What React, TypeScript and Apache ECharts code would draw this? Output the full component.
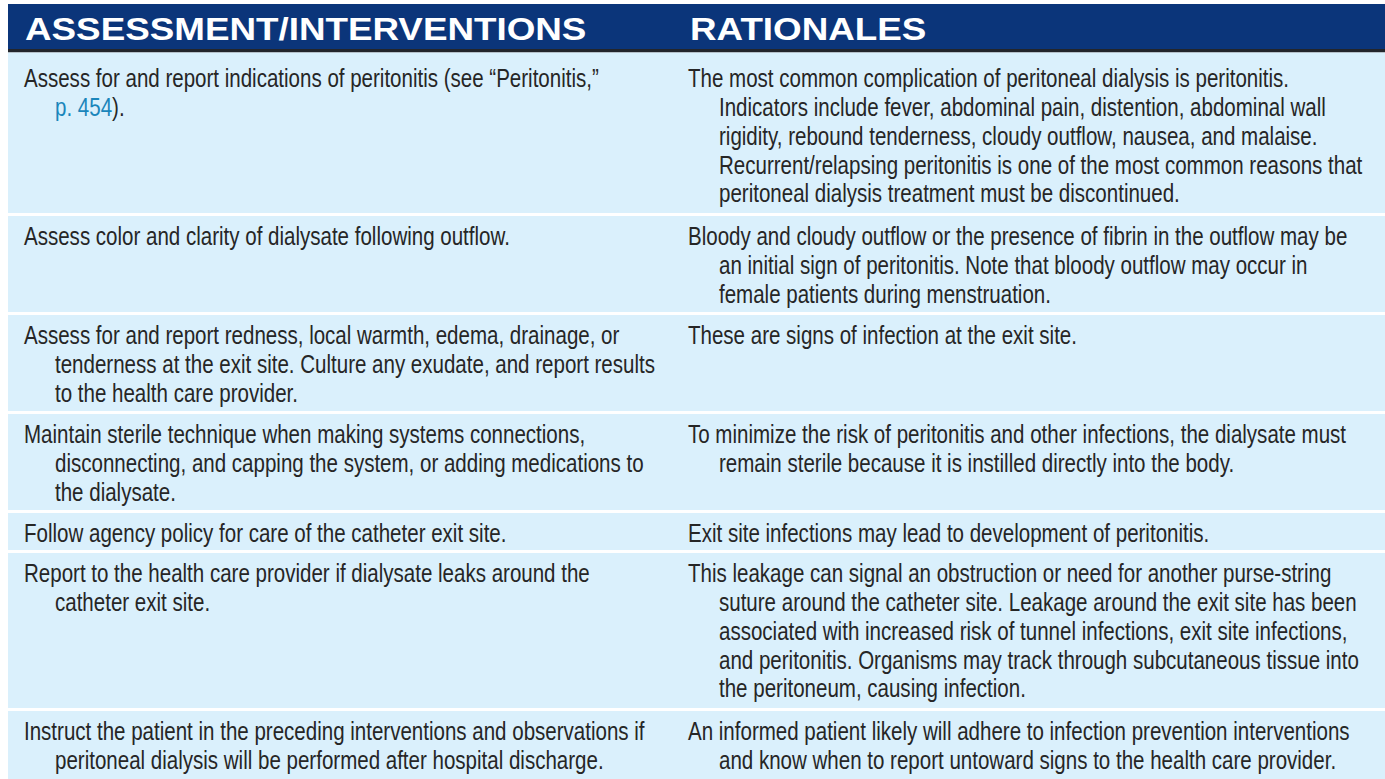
import React, { useEffect, useRef } from "react";
import * as echarts from "echarts";

// ---- table content ----
const headers: string[] = ["ASSESSMENT/INTERVENTIONS", "RATIONALES"];

const interventions: string[][] = [
  ["Assess for and report indications of peritonitis (see “Peritonitis,”", "{link|p. 454}{txt|).}"],
  ["Assess color and clarity of dialysate following outflow."],
  [
    "Assess for and report redness, local warmth, edema, drainage, or",
    "tenderness at the exit site. Culture any exudate, and report results",
    "to the health care provider.",
  ],
  [
    "Maintain sterile technique when making systems connections,",
    "disconnecting, and capping the system, or adding medications to",
    "the dialysate.",
  ],
  ["Follow agency policy for care of the catheter exit site."],
  ["Report to the health care provider if dialysate leaks around the", "catheter exit site."],
  [
    "Instruct the patient in the preceding interventions and observations if",
    "peritoneal dialysis will be performed after hospital discharge.",
  ],
];

const rationales: string[][] = [
  [
    "The most common complication of peritoneal dialysis is peritonitis.",
    "Indicators include fever, abdominal pain, distention, abdominal wall",
    "rigidity, rebound tenderness, cloudy outflow, nausea, and malaise.",
    "Recurrent/relapsing peritonitis is one of the most common reasons that",
    "peritoneal dialysis treatment must be discontinued.",
  ],
  [
    "Bloody and cloudy outflow or the presence of fibrin in the outflow may be",
    "an initial sign of peritonitis. Note that bloody outflow may occur in",
    "female patients during menstruation.",
  ],
  ["These are signs of infection at the exit site."],
  [
    "To minimize the risk of peritonitis and other infections, the dialysate must",
    "remain sterile because it is instilled directly into the body.",
  ],
  ["Exit site infections may lead to development of peritonitis."],
  [
    "This leakage can signal an obstruction or need for another purse-string",
    "suture around the catheter site. Leakage around the exit site has been",
    "associated with increased risk of tunnel infections, exit site infections,",
    "and peritonitis. Organisms may track through subcutaneous tissue into",
    "the peritoneum, causing infection.",
  ],
  [
    "An informed patient likely will adhere to infection prevention interventions",
    "and know when to report untoward signs to the health care provider.",
  ],
];

// ---- styles ----
const W = 1385;
const H = 779;
const TABLE_LEFT = 8;
const HEADER_TOP = 4;
const HEADER_H = 45;
const RULE_H = 3.5;
const ROW_GAP = 3;
const ROW_LINE_H = 29.5;
const TEXT_LINE_H = 28.9;
const ROW_BASE = 37;
const TEXT_PAD = 20;
const FIRST_ROW_EXTRA = 5.5;
const COL_X = [24, 688];
const INDENT = 31;
const BODY_FONT = 26;
const BODY_SCALE = 0.79;
const HEAD_FONT = 32;
const HEAD_SCALE = 1.15;
const FONT_FAMILY = "'Liberation Sans', Arial, Helvetica, sans-serif";

const NAVY = "#0b357a";
const RULE = "#23252b";
const ROW_BG = "#daf0fc";
const TEXT = "#262626";
const LINK = "#1a86bb";

function buildElements() {
  const els: any[] = [];
  // header band
  els.push({
    type: "rect",
    shape: { x: TABLE_LEFT, y: HEADER_TOP, width: W - TABLE_LEFT, height: HEADER_H },
    style: { fill: NAVY },
  });
  els.push({
    type: "rect",
    shape: { x: TABLE_LEFT, y: HEADER_TOP + HEADER_H, width: W - TABLE_LEFT, height: RULE_H },
    style: { fill: RULE },
  });
  headers.forEach((h, i) => {
    els.push({
      type: "text",
      x: COL_X[i] + (i === 1 ? 2 : 1),
      y: HEADER_TOP + HEADER_H / 2 + 2,
      scaleX: HEAD_SCALE,
      style: {
        text: h,
        fill: "#ffffff",
        fontSize: HEAD_FONT,
        fontWeight: "bold",
        fontFamily: FONT_FAMILY,
        align: "left",
        verticalAlign: "middle",
      },
    });
  });

  let top = HEADER_TOP + HEADER_H + RULE_H;
  interventions.forEach((left, r) => {
    const right = rationales[r];
    const n = Math.max(left.length, right.length);
    const extra = r === 0 ? FIRST_ROW_EXTRA : 0;
    let h = ROW_BASE + (n - 1) * ROW_LINE_H + extra;
    if (r === interventions.length - 1) h = Math.max(h, H - top);
    els.push({
      type: "rect",
      shape: { x: TABLE_LEFT, y: top, width: W - TABLE_LEFT, height: h },
      style: { fill: ROW_BG },
    });
    [left, right].forEach((lines, c) => {
      lines.forEach((line, k) => {
        els.push({
          type: "text",
          x: COL_X[c] + (k > 0 ? INDENT : 0),
          y: top + extra + TEXT_PAD + k * TEXT_LINE_H,
          scaleX: BODY_SCALE,
          style: {
            text: line,
            fill: TEXT,
            fontSize: BODY_FONT,
            fontFamily: FONT_FAMILY,
            align: "left",
            verticalAlign: "middle",
            rich: {
              link: { fill: LINK, fontSize: BODY_FONT, fontFamily: FONT_FAMILY },
              txt: { fill: TEXT, fontSize: BODY_FONT, fontFamily: FONT_FAMILY },
            },
          },
        });
      });
    });
    top += h + ROW_GAP;
  });
  return els;
}

export default function App() {
  const ref = useRef<HTMLDivElement>(null);
  useEffect(() => {
    if (!ref.current) return;
    const chart = echarts.init(ref.current, undefined, { renderer: "svg" });
    chart.setOption({
      animation: false,
      backgroundColor: "#ffffff",
      graphic: { elements: buildElements() },
    });
    return () => chart.dispose();
  }, []);
  return (
    <div
      ref={ref}
      style={{ position: "fixed", left: 0, top: 0, width: W, height: H, background: "#fff" }}
    />
  );
}
